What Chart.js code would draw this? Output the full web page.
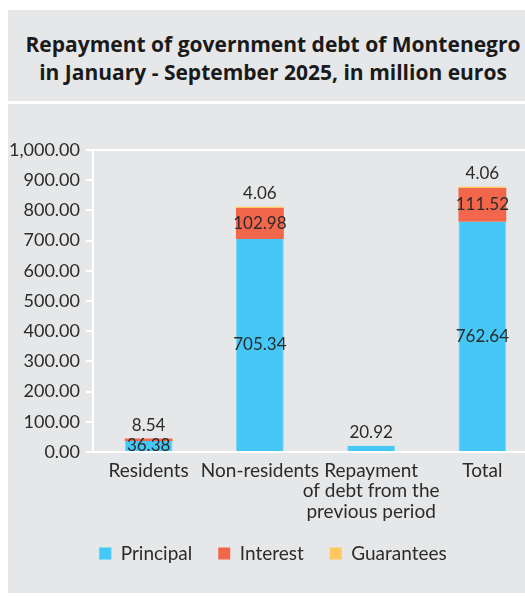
<!DOCTYPE html>
<html>
<head>
<meta charset="utf-8">
<script src="https://cdn.jsdelivr.net/npm/chart.js@4"></script>
<style>
  html, body { margin: 0; padding: 0; background: #fff; overflow: hidden; }
  body { width: 525px; height: 596px; position: relative; }
  #titulo {
    position: absolute; left: 8px; top: 10px; width: 530px; height: 91px;
    background: #e6e7e8; color: #1a1a1a;
    font-family: "Open Sans", Lato, sans-serif; font-weight: bold; font-size: 21px;
    line-height: 28px; text-align: center; box-sizing: border-box; padding-top: 20px;
  }
  #panel {
    position: absolute; left: 8px; top: 104px; width: 530px; height: 489px;
    background: #e6e7e8; overflow: hidden;
  }
</style>
</head>
<body>
<div id="titulo">Repayment of government debt of Montenegro<br>in January - September 2025, in million euros</div>
<div id="panel"><canvas id="grafico" width="530" height="489"></canvas></div>
<script>
// Datos
var categorias = ["Residents", "Non-residents", ["Repayment", "of debt from the", "previous period"], "Total"];
var principal = [36.38, 705.34, 20.92, 762.64];
var interest = [8.54, 102.98, 0, 111.52];
var guarantees = [0, 4.06, 0, 4.06];
var ticksY = [0, 100, 200, 300, 400, 500, 600, 700, 800, 900, 1000];

var fuente = "Lato, 'Open Sans', sans-serif";
var colorTexto = "#2b2b2b";

// Etiquetas de valores
var etiquetas = {
  id: "etiquetas",
  afterDatasetsDraw: function(chart) {
    var ctx = chart.ctx;
    ctx.save();
    ctx.font = "17px " + fuente;
    ctx.fillStyle = colorTexto;
    ctx.textAlign = "center";
    ctx.textBaseline = "middle";
    var n = chart.data.labels.length;
    for (var i = 0; i < n; i++) {
      // ultimo segmento no nulo
      var ultimo = -1;
      chart.data.datasets.forEach(function(ds, d) { if (ds.data[i] > 0) ultimo = d; });
      chart.data.datasets.forEach(function(ds, d) {
        var v = ds.data[i];
        if (!v) return;
        var bar = chart.getDatasetMeta(d).data[i];
        var alto = Math.abs(bar.base - bar.y);
        var y;
        if (d === ultimo && alto < 15) {
          y = bar.y - 13;
        } else {
          y = (bar.y + bar.base) / 2;
        }
        ctx.fillText(v.toFixed(2), bar.x, y);
      });
    }
    ctx.restore();
  }
};

// Subir la leyenda hasta su sitio (las etiquetas del eje x ocupan mucho)
var subirLeyenda = {
  id: "subirLeyenda",
  afterLayout: function(chart) {
    var leyenda = chart.legend;
    if (!leyenda) return;
    var y = chart.chartArea.bottom + 101; // centro deseado de los items
    var actual = leyenda.top + leyenda.options.labels.padding + 9;
    var d = actual - y;
    leyenda.top -= d;
    leyenda.bottom -= d;
  }
};

var graficoCanvas = document.getElementById("grafico");
new Chart(graficoCanvas, {
  type: "bar",
  data: {
    labels: categorias,
    datasets: [
      { label: "Principal", data: principal, backgroundColor: "#45c8f5", borderColor: "#7dd8f7", borderWidth: { left: 1, right: 1, top: 0, bottom: 0 } },
      { label: "Interest", data: interest, backgroundColor: "#f2674b", borderColor: "#f2674b", borderWidth: 0 },
      { label: "Guarantees", data: guarantees, backgroundColor: "#ffc85c", borderColor: "#ffc85c", borderWidth: 0 }
    ]
  },
  options: {
    responsive: false,
    animation: false,
    layout: { padding: { top: 46, left: 0, right: 0, bottom: 0 } },
    datasets: { bar: { barPercentage: 0.86, categoryPercentage: 0.5 } },
    plugins: {
      title: { display: false },
      tooltip: { enabled: false },
      legend: {
        position: "bottom",
        labels: {
          boxWidth: 12, boxHeight: 12, padding: 26,
          color: colorTexto,
          font: { family: fuente, size: 19 }
        }
      }
    },
    scales: {
      x: {
        stacked: true,
        grid: { display: false },
        border: { display: true, color: "#ffffff", width: 2 },
        ticks: {
          color: colorTexto, maxRotation: 0, autoSkip: false, padding: 0,
          font: { family: fuente, size: 19, lineHeight: 1.1 }
        },
        afterFit: function(scale) { scale.height = 141 - (scale.chart.legend ? scale.chart.legend.height : 0); }
      },
      y: {
        stacked: true,
        min: 0, max: 1000,
        afterBuildTicks: function(scale) {
          scale.ticks = ticksY.map(function(v) { return { value: v }; });
        },
        grid: {
          lineWidth: 2,
          color: function(c) { return c.tick && c.tick.value === 1000 ? "#ffffff" : "rgba(0,0,0,0)"; },
          tickColor: "#ffffff",
          tickLength: 7,
          tickWidth: 2
        },
        border: { display: true, color: "#ffffff", width: 2 },
        ticks: {
          color: colorTexto, padding: 6,
          font: { family: fuente, size: 18 },
          callback: function(v) {
            return Number(v).toLocaleString("en-US", { minimumFractionDigits: 2, maximumFractionDigits: 2 });
          }
        },
        afterFit: function(scale) { scale.width = 85; }
      }
    }
  },
  plugins: [etiquetas, subirLeyenda]
});
</script>
</body>
</html>
